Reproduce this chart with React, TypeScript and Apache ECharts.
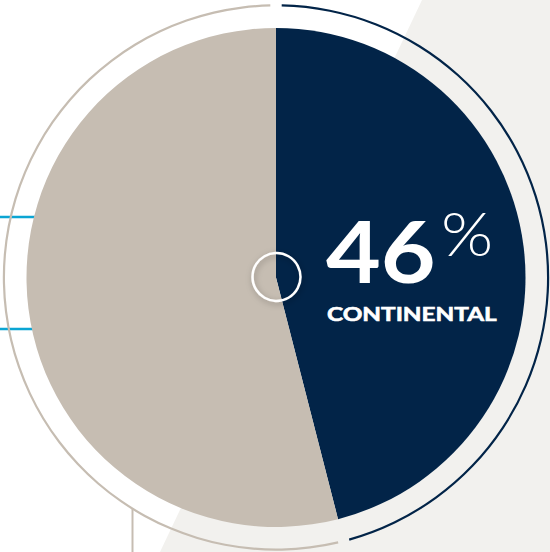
import React, { useEffect, useRef } from "react";
import * as echarts from "echarts";

const categories = ["Continental", "Other"];
const shares = [46, 54];
const sliceColors = ["#022448", "#c6bdb2"];
const headlineLabel = "CONTINENTAL";

export default function App() {
  const ref = useRef<HTMLDivElement>(null);
  useEffect(() => {
    if (!ref.current) return;
    const chart = echarts.init(ref.current, undefined, { renderer: "svg" });
    const data = categories.map((name, i) => ({
      name,
      value: shares[i],
      itemStyle: { color: sliceColors[i] },
    }));
    const cx = 276;
    const cy = 277.5;
    chart.setOption({
      animation: false,
      backgroundColor: "#ffffff",
      graphic: [
        {
          type: "polygon",
          z: -10,
          shape: { points: [[422, 0], [550, 0], [550, 552], [160, 552]] },
          style: { fill: "#f2f1ee" },
        },
        {
          type: "line",
          z: -5,
          shape: { x1: 0, y1: 217, x2: 60, y2: 217 },
          style: { stroke: "#0ba5d3", lineWidth: 2.5 },
        },
        {
          type: "line",
          z: -5,
          shape: { x1: 0, y1: 329, x2: 60, y2: 329 },
          style: { stroke: "#0ba5d3", lineWidth: 2.5 },
        },
        {
          type: "line",
          z: -5,
          shape: { x1: 132.5, y1: 508, x2: 132.5, y2: 552 },
          style: { stroke: "#c6bdb2", lineWidth: 2 },
        },
        {
          type: "circle",
          z: 20,
          shape: { cx: cx + 0.5, cy: cy - 0.5, r: 24 },
          style: {
            fill: "none",
            stroke: "#ffffff",
            lineWidth: 2.5,
            shadowBlur: 6,
            shadowColor: "rgba(0,0,0,0.3)",
            shadowOffsetX: 1,
            shadowOffsetY: 2,
          },
        },
        {
          type: "text",
          z: 20,
          x: 326,
          y: 293,
          scaleX: 1.1,
          style: {
            text: String(shares[0]),
            fill: "#ffffff",
            font: "bold 86px Lato",
            textAlign: "left",
            textVerticalAlign: "bottom",
          },
        },
        {
          type: "text",
          z: 20,
          x: 441,
          y: 263,
          scaleX: 1.08,
          style: {
            text: "%",
            fill: "#ffffff",
            font: "300 62px Lato",
            textAlign: "left",
            textVerticalAlign: "bottom",
          },
        },
        {
          type: "text",
          z: 20,
          x: 327,
          y: 323,
          scaleX: 1.28,
          style: {
            text: headlineLabel,
            fill: "#ffffff",
            stroke: "#ffffff",
            lineWidth: 0.6,
            font: "bold 19px Lato",
            textAlign: "left",
            textVerticalAlign: "bottom",
          },
        },
      ],
      series: [
        {
          type: "pie",
          z: 2,
          center: [cx, cy],
          radius: [0, 249.5],
          startAngle: 90,
          clockwise: true,
          silent: true,
          label: { show: false },
          labelLine: { show: false },
          itemStyle: { borderWidth: 0 },
          data,
        },
        {
          type: "pie",
          z: 2,
          center: [cx, cy],
          radius: [271, 273.2],
          startAngle: 90,
          clockwise: true,
          padAngle: 2.4,
          silent: true,
          label: { show: false },
          labelLine: { show: false },
          itemStyle: { borderWidth: 0 },
          data,
        },
      ],
    });
    return () => chart.dispose();
  }, []);
  return (
    <div
      ref={ref}
      style={{ position: "fixed", left: 0, top: 0, width: 550, height: 552 }}
    />
  );
}
